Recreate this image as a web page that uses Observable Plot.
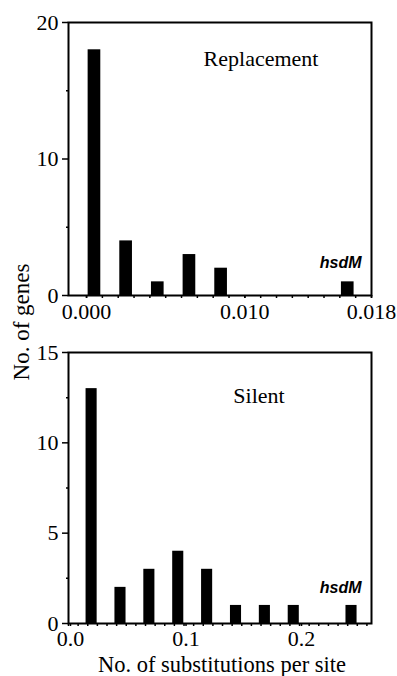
<!DOCTYPE html>
<html>
<head>
<meta charset="utf-8">
<script src="https://cdn.jsdelivr.net/npm/d3@7"></script>
<script src="https://cdn.jsdelivr.net/npm/@observablehq/plot@0.6"></script>
<style>
  body { margin: 0; background: white; }
  #chart { position: relative; width: 397px; height: 676px; }
  #chart svg { display: block; }
  #ylab {
    position: absolute; left: 22px; top: 322px;
    transform: translate(-50%, -50%) rotate(-90deg);
    white-space: nowrap; font-family: "Liberation Serif", serif; font-size: 23px; color: black;
  }
</style>
</head>
<body>
<div id="chart"><div id="ylab">No. of genes</div></div>
<script>
// Replacement panel (top)
const replacementX = [0.0005, 0.0025, 0.0045, 0.0065, 0.0085, 0.0165];
const replacementCount = [18, 4, 1, 3, 2, 1];
const replacementTicks = [0, 0.010, 0.018];
const replacementYTicks = [0, 10, 20];

// Silent panel (bottom)
const silentX = [0.02, 0.045, 0.07, 0.095, 0.12, 0.145, 0.17, 0.195, 0.245];
const silentCount = [13, 2, 3, 4, 3, 1, 1, 1, 1];
const silentTicks = [0.0, 0.1, 0.2];
const silentYTicks = [0, 5, 10, 15];

const panelTitles = ["Replacement", "Silent"];
const geneLabel = "hsdM";
const xLabel = "No. of substitutions per site";

const font = "Liberation Serif";
const baseStyle = {fontFamily: font, fontSize: "22px", color: "black", background: "white", overflow: "visible"};

const repData = replacementX.map((x, i) => ({x, n: replacementCount[i]}));
const silData = silentX.map((x, i) => ({x, n: silentCount[i]}));

const repHalf = 0.0004;
const silHalf = 0.0048;
const blank = () => "";
const geneStyle = {fontFamily: "Liberation Sans", fontWeight: "bold", fontStyle: "italic", fontSize: 16, style: "letter-spacing:2px"};

const topPanel = Plot.plot({
  width: 397, height: 330,
  marginLeft: 68, marginRight: 26, marginTop: 22, marginBottom: 35,
  style: baseStyle,
  x: {domain: [-0.00114, 0.018]},
  y: {domain: [0, 20]},
  marks: [
    Plot.rectY(repData, {x1: d => d.x - repHalf, x2: d => d.x + repHalf, y: "n", fill: "black"}),
    Plot.axisX(d3.range(0, 19).map(i => i / 1000), {tickSize: 3, tickFormat: blank, label: null, strokeWidth: 1.5}),
    Plot.axisX(replacementTicks, {tickSize: 3, tickPadding: 5, tickFormat: d3.format(".3f"), label: null, strokeWidth: 1.5}),
    Plot.axisY(replacementYTicks, {tickSize: 6, tickPadding: 4, label: null, strokeWidth: 1.5}),
    Plot.axisY([5, 15], {tickSize: 2, tickFormat: blank, label: null, strokeWidth: 1.5}),
    Plot.frame({strokeWidth: 2}),
    Plot.text([panelTitles[0]], {frameAnchor: "top", dx: 41, dy: 43, lineAnchor: "bottom", fontSize: 22}),
    Plot.text([geneLabel], {frameAnchor: "bottom-right", dx: -10, dy: -28, lineAnchor: "bottom", textAnchor: "end", ...geneStyle})
  ]
});

const bottomPanel = Plot.plot({
  width: 397, height: 346,
  marginLeft: 68, marginRight: 26, marginTop: 22, marginBottom: 53,
  style: baseStyle,
  x: {domain: [0, 0.2623]},
  y: {domain: [0, 15]},
  marks: [
    Plot.rectY(silData, {x1: d => d.x - silHalf, x2: d => d.x + silHalf, y: "n", fill: "black"}),
    Plot.axisX(d3.range(0, 32).map(i => i * 0.1 / 12), {tickSize: 3, tickFormat: blank, label: null, strokeWidth: 1.5}),
    Plot.axisX(silentTicks, {tickSize: 3, tickPadding: 4, dx: 2, tickFormat: d3.format(".1f"), label: null, strokeWidth: 1.5}),
    Plot.axisY(silentYTicks, {tickSize: 6, tickPadding: 4, label: null, strokeWidth: 1.5}),
    Plot.axisY([2.5, 7.5, 12.5], {tickSize: 2, tickFormat: blank, label: null, strokeWidth: 1.5}),
    Plot.frame({strokeWidth: 2}),
    Plot.text([panelTitles[1]], {frameAnchor: "top", dx: 39, dy: 50, lineAnchor: "bottom", fontSize: 22}),
    Plot.text([geneLabel], {frameAnchor: "bottom-right", dx: -10, dy: -31, lineAnchor: "bottom", textAnchor: "end", ...geneStyle}),
    Plot.text([xLabel], {frameAnchor: "bottom", dx: 2, dy: 48, lineAnchor: "bottom", fontSize: 22.5})
  ]
});

const chart = document.getElementById("chart");
chart.insertBefore(bottomPanel, chart.firstChild);
chart.insertBefore(topPanel, chart.firstChild);
</script>
</body>
</html>
